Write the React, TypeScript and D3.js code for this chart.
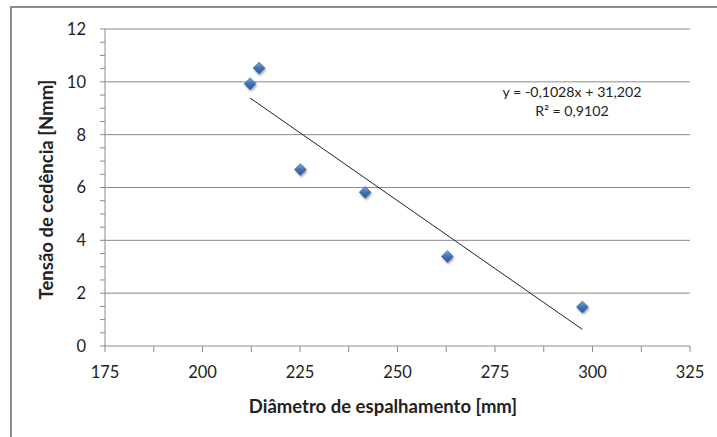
import { scaleLinear, range } from "d3";

const W = 717;
const H = 437;
const M = { left: 105, right: 27, top: 29, bottom: 91 };

const diameter = [212.2, 214.5, 225.1, 241.7, 262.8, 297.4];
const stress = [9.93, 10.52, 6.68, 5.82, 3.39, 1.48];
const xTicks = [175, 200, 225, 250, 275, 300, 325];
const yTicks = [0, 2, 4, 6, 8, 10, 12];
const slope = -0.1028;
const intercept = 31.202;
const eqLines = ["y = -0,1028x + 31,202", "R² = 0,9102"];

const FONT = "Lato, 'Open Sans', sans-serif";

export default function App() {
  const x = scaleLinear().domain([175, 325]).range([M.left, W - M.right]);
  const y = scaleLinear().domain([0, 12]).range([H - M.bottom, M.top]);
  const x0 = Math.min(...diameter);
  const x1 = Math.max(...diameter);
  const xMinor = range(175, 325.1, 12.5);
  const yMinor = range(0, 12.01, 0.5);
  const r = 6;

  return (
    <div style={{ position: "fixed", left: 0, top: 0 }}>
      <svg width={W} height={H} style={{ display: "block", background: "#fff" }}>
        <defs>
          <linearGradient id="dia" x1="0" y1="0" x2="0" y2="1">
            <stop offset="0" stopColor="#7ea6d8" />
            <stop offset="0.5" stopColor="#3f73b4" />
            <stop offset="1" stopColor="#2c5a94" />
          </linearGradient>
          <filter id="sh" x="-50%" y="-50%" width="200%" height="200%">
            <feGaussianBlur stdDeviation="1.2" />
          </filter>
        </defs>

        <rect x={11} y={7} width={W} height={H} fill="#fff" stroke="#8c8c8c" strokeWidth={2} />

        {yTicks.map((t) => (
          <g key={t}>
            {t > 0 && (
              <line x1={M.left} x2={W - M.right} y1={y(t)} y2={y(t)} stroke="#8a8a8a" strokeWidth={1} />
            )}
            <text
              x={M.left - 19}
              y={y(t)}
              dy="0.36em"
              textAnchor="end"
              fontFamily={FONT}
              fontSize={16.5}
              fill="#222"
            >
              {t}
            </text>
          </g>
        ))}

        {yMinor.map((t) => (
          <line key={t} x1={M.left - 5} x2={M.left} y1={y(t)} y2={y(t)} stroke="#8a8a8a" />
        ))}
        {xMinor.map((t) => (
          <line key={t} x1={x(t)} x2={x(t)} y1={y(0)} y2={y(0) + 6} stroke="#8a8a8a" />
        ))}

        <line x1={M.left} x2={M.left} y1={y(0)} y2={y(12)} stroke="#8a8a8a" />
        <line x1={M.left} x2={W - M.right} y1={y(0)} y2={y(0)} stroke="#8a8a8a" />

        {xTicks.map((t) => (
          <text
            key={t}
            x={x(t)}
            y={378}
            textAnchor="middle"
            fontFamily={FONT}
            fontSize={16.5}
            fill="#222"
          >
            {t}
          </text>
        ))}

        <line
          x1={x(x0)}
          y1={y(slope * x0 + intercept)}
          x2={x(x1)}
          y2={y(slope * x1 + intercept)}
          stroke="#222"
          strokeWidth={1}
        />

        {diameter.map((d, i) => {
          const cx = x(d);
          const cy = y(stress[i]);
          const p = (ox: number, oy: number) =>
            `M${cx + ox},${cy - r + oy}L${cx + r + ox},${cy + oy}L${cx + ox},${cy + r + oy}L${cx - r + ox},${cy + oy}Z`;
          return (
            <g key={i}>
              <path d={p(1, 2)} fill="#000" opacity={0.35} filter="url(#sh)" />
              <path d={p(0, 0)} fill="url(#dia)" stroke="#2f5f9a" strokeWidth={0.5} />
            </g>
          );
        })}

        {eqLines.map((s, i) => (
          <text
            key={s}
            x={572}
            y={96.5 + i * 19.5}
            textAnchor="middle"
            fontFamily={FONT}
            fontSize={14.2}
            fill="#222"
          >
            {s}
          </text>
        ))}

        <text
          x={383}
          y={413}
          textAnchor="middle"
          fontFamily={FONT}
          fontWeight="bold"
          fontSize={18.5}
          fill="#222"
        >
          Diâmetro de espalhamento [mm]
        </text>
        <text
          transform={`translate(53,${(y(0) + y(12)) / 2 + 2}) rotate(-90)`}
          textAnchor="middle"
          fontFamily={FONT}
          fontWeight="bold"
          fontSize={18.5}
          fill="#222"
        >
          Tensão de cedência [Nmm]
        </text>
      </svg>
    </div>
  );
}
